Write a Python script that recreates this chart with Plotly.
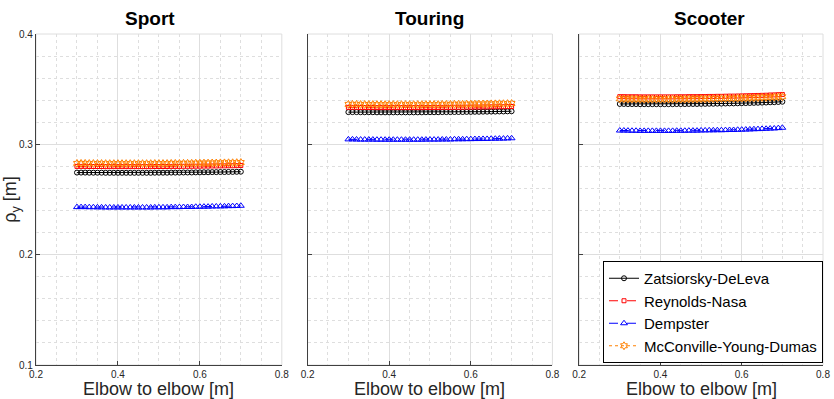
import plotly.graph_objects as go
from plotly.subplots import make_subplots

# Elbow-to-elbow distance [m]
elbow = [0.30, 0.31, 0.32, 0.33, 0.34, 0.35, 0.36, 0.37, 0.38, 0.39, 0.40,
         0.41, 0.42, 0.43, 0.44, 0.45, 0.46, 0.47, 0.48, 0.49, 0.50,
         0.51, 0.52, 0.53, 0.54, 0.55, 0.56, 0.57, 0.58, 0.59, 0.60,
         0.61, 0.62, 0.63, 0.64, 0.65, 0.66, 0.67, 0.68, 0.69, 0.70]

panels = ["Sport", "Touring", "Scooter"]
models = ["Zatsiorsky-DeLeva", "Reynolds-Nasa", "Dempster", "McConville-Young-Dumas"]
x_ticks = [0.2, 0.4, 0.6, 0.8]
y_ticks = [0.1, 0.2, 0.3, 0.4]

# Radius of gyration rho_y [m] per model, Sport
sport_zatsiorsky = [0.2744, 0.2744, 0.2744, 0.2743, 0.2743, 0.2743, 0.2743, 0.2742, 0.2742, 0.2742, 0.2742,
                    0.2742, 0.2742, 0.2742, 0.2742, 0.2742, 0.2742, 0.2742, 0.2742, 0.2743, 0.2743,
                    0.2743, 0.2743, 0.2744, 0.2744, 0.2744, 0.2745, 0.2745, 0.2745, 0.2746, 0.2746,
                    0.2747, 0.2747, 0.2748, 0.2748, 0.2749, 0.2749, 0.2750, 0.2750, 0.2751, 0.2752]
sport_reynolds = [0.2800, 0.2800, 0.2800, 0.2799, 0.2799, 0.2799, 0.2799, 0.2798, 0.2798, 0.2798, 0.2798,
                  0.2798, 0.2798, 0.2798, 0.2798, 0.2798, 0.2798, 0.2798, 0.2798, 0.2799, 0.2799,
                  0.2799, 0.2799, 0.2800, 0.2800, 0.2800, 0.2801, 0.2801, 0.2801, 0.2802, 0.2802,
                  0.2803, 0.2803, 0.2804, 0.2804, 0.2805, 0.2805, 0.2806, 0.2806, 0.2807, 0.2808]
sport_dempster = [0.2431, 0.2431, 0.2431, 0.2430, 0.2430, 0.2429, 0.2429, 0.2428, 0.2428, 0.2428, 0.2428,
                  0.2428, 0.2428, 0.2428, 0.2428, 0.2428, 0.2428, 0.2428, 0.2428, 0.2429, 0.2429,
                  0.2429, 0.2429, 0.2431, 0.2431, 0.2431, 0.2432, 0.2432, 0.2432, 0.2434, 0.2434,
                  0.2435, 0.2435, 0.2437, 0.2437, 0.2438, 0.2438, 0.2440, 0.2440, 0.2441, 0.2443]
sport_mcconville = [0.2827, 0.2827, 0.2827, 0.2826, 0.2826, 0.2826, 0.2826, 0.2825, 0.2825, 0.2825, 0.2825,
                    0.2825, 0.2825, 0.2825, 0.2825, 0.2825, 0.2825, 0.2825, 0.2825, 0.2826, 0.2826,
                    0.2826, 0.2826, 0.2827, 0.2827, 0.2827, 0.2828, 0.2828, 0.2828, 0.2829, 0.2829,
                    0.2830, 0.2830, 0.2831, 0.2831, 0.2832, 0.2832, 0.2833, 0.2833, 0.2834, 0.2835]

# Touring
touring_zatsiorsky = [0.3292, 0.3292, 0.3292, 0.3291, 0.3291, 0.3291, 0.3291, 0.3290, 0.3290, 0.3290, 0.3290,
                      0.3290, 0.3290, 0.3290, 0.3290, 0.3290, 0.3290, 0.3290, 0.3290, 0.3291, 0.3291,
                      0.3291, 0.3291, 0.3292, 0.3292, 0.3292, 0.3293, 0.3293, 0.3293, 0.3294, 0.3294,
                      0.3295, 0.3295, 0.3296, 0.3296, 0.3297, 0.3297, 0.3298, 0.3298, 0.3299, 0.3300]
touring_reynolds = [0.3335, 0.3335, 0.3335, 0.3334, 0.3334, 0.3334, 0.3334, 0.3333, 0.3333, 0.3333, 0.3333,
                    0.3333, 0.3333, 0.3333, 0.3333, 0.3333, 0.3333, 0.3333, 0.3333, 0.3334, 0.3334,
                    0.3334, 0.3334, 0.3335, 0.3335, 0.3335, 0.3336, 0.3336, 0.3336, 0.3337, 0.3337,
                    0.3338, 0.3338, 0.3339, 0.3339, 0.3340, 0.3340, 0.3341, 0.3341, 0.3342, 0.3343]
touring_dempster = [0.3045, 0.3045, 0.3044, 0.3043, 0.3043, 0.3043, 0.3043, 0.3042, 0.3042, 0.3042, 0.3042,
                    0.3042, 0.3042, 0.3042, 0.3042, 0.3042, 0.3042, 0.3042, 0.3042, 0.3043, 0.3043,
                    0.3043, 0.3043, 0.3044, 0.3044, 0.3044, 0.3046, 0.3046, 0.3046, 0.3047, 0.3047,
                    0.3048, 0.3048, 0.3049, 0.3049, 0.3051, 0.3051, 0.3052, 0.3052, 0.3054, 0.3055]
touring_mcconville = [0.3362, 0.3362, 0.3362, 0.3361, 0.3361, 0.3361, 0.3361, 0.3360, 0.3360, 0.3360, 0.3360,
                      0.3360, 0.3360, 0.3360, 0.3360, 0.3360, 0.3360, 0.3360, 0.3360, 0.3361, 0.3361,
                      0.3361, 0.3361, 0.3362, 0.3362, 0.3362, 0.3363, 0.3363, 0.3363, 0.3364, 0.3364,
                      0.3365, 0.3365, 0.3366, 0.3366, 0.3367, 0.3367, 0.3368, 0.3368, 0.3369, 0.3370]

# Scooter
scooter_zatsiorsky = [0.3366, 0.3366, 0.3365, 0.3365, 0.3365, 0.3364, 0.3364, 0.3364, 0.3364, 0.3364, 0.3364,
                      0.3364, 0.3364, 0.3364, 0.3365, 0.3365, 0.3365, 0.3366, 0.3366, 0.3366, 0.3367,
                      0.3367, 0.3368, 0.3368, 0.3369, 0.3369, 0.3370, 0.3371, 0.3371, 0.3372, 0.3373,
                      0.3374, 0.3375, 0.3376, 0.3377, 0.3378, 0.3379, 0.3381, 0.3382, 0.3384, 0.3386]
scooter_reynolds = [0.3432, 0.3432, 0.3431, 0.3431, 0.3431, 0.3430, 0.3430, 0.3430, 0.3430, 0.3430, 0.3430,
                    0.3430, 0.3430, 0.3430, 0.3431, 0.3431, 0.3431, 0.3432, 0.3432, 0.3432, 0.3433,
                    0.3433, 0.3434, 0.3434, 0.3435, 0.3435, 0.3436, 0.3437, 0.3437, 0.3438, 0.3439,
                    0.3440, 0.3441, 0.3442, 0.3443, 0.3444, 0.3445, 0.3447, 0.3448, 0.3450, 0.3452]
scooter_dempster = [0.3125, 0.3125, 0.3124, 0.3123, 0.3123, 0.3122, 0.3122, 0.3122, 0.3122, 0.3122, 0.3122,
                    0.3122, 0.3122, 0.3122, 0.3123, 0.3123, 0.3123, 0.3124, 0.3124, 0.3124, 0.3126,
                    0.3126, 0.3127, 0.3127, 0.3128, 0.3128, 0.3129, 0.3130, 0.3130, 0.3132, 0.3133,
                    0.3134, 0.3135, 0.3137, 0.3138, 0.3140, 0.3141, 0.3143, 0.3144, 0.3147, 0.3150]
scooter_mcconville = [0.3412, 0.3412, 0.3411, 0.3411, 0.3411, 0.3410, 0.3410, 0.3410, 0.3410, 0.3410, 0.3410,
                      0.3410, 0.3410, 0.3410, 0.3411, 0.3411, 0.3411, 0.3412, 0.3412, 0.3412, 0.3413,
                      0.3413, 0.3414, 0.3414, 0.3415, 0.3415, 0.3416, 0.3417, 0.3417, 0.3418, 0.3419,
                      0.3420, 0.3421, 0.3422, 0.3423, 0.3424, 0.3425, 0.3427, 0.3428, 0.3430, 0.3432]

panel_data = [
    [sport_zatsiorsky, sport_reynolds, sport_dempster, sport_mcconville],
    [touring_zatsiorsky, touring_reynolds, touring_dempster, touring_mcconville],
    [scooter_zatsiorsky, scooter_reynolds, scooter_dempster, scooter_mcconville],
]

styles = [
    dict(color="black", dash="solid", symbol="circle-open", size=5),
    dict(color="rgb(255,0,0)", dash="dash", symbol="square-open", size=4),
    dict(color="rgb(0,0,255)", dash="dash", symbol="triangle-up-open", size=6),
    dict(color="rgb(255,128,0)", dash="dot", symbol="hexagram-open", size=6),
]

FONT = "Liberation Sans, Arial, sans-serif"
TEXT = "#262626"

fig = make_subplots(rows=1, cols=3, subplot_titles=panels)

W, H = 834, 399
ml, mr, mt, mb = 36, 4, 34, 34
pw = W - ml - mr
ph = H - mt - mb
domains = [(0, 248 / pw), (274 / pw, 521 / pw), (548 / pw, 1.0)]

for c, series in enumerate(panel_data, start=1):
    for name, ys, st in zip(models, series, styles):
        fig.add_trace(
            go.Scatter(
                x=elbow, y=ys, name=name, mode="lines+markers",
                line=dict(color=st["color"], dash=st["dash"], width=1),
                marker=dict(symbol=st["symbol"], size=st["size"], color=st["color"],
                            line=dict(width=1, color=st["color"])),
                showlegend=(c == 3),
            ),
            row=1, col=c,
        )

tick_font = dict(family=FONT, size=10, color=TEXT)
grid_major = "rgb(222,222,222)"
grid_minor = "rgb(222,222,222)"

for i in range(1, 4):
    sfx = "" if i == 1 else str(i)
    fig.layout["xaxis" + sfx].update(
        domain=domains[i - 1], range=[0.2, 0.8], tickvals=x_ticks,
        ticktext=[f"{v:.1f}" for v in x_ticks],
        showgrid=True, gridcolor=grid_major, gridwidth=1,
        minor=dict(dtick=0.05, tick0=0.2, showgrid=True, gridcolor=grid_minor,
                   griddash="dot", gridwidth=1, ticks=""),
        showline=True, linecolor="#404040", linewidth=1.2,
        ticks="inside", ticklen=4, tickcolor="#404040",
        tickfont=tick_font, zeroline=False,
    )
    fig.layout["yaxis" + sfx].update(
        range=[0.1, 0.4], tickvals=y_ticks,
        ticktext=[f"{v:.1f}" for v in y_ticks], showticklabels=(i == 1),
        showgrid=True, gridcolor=grid_major, gridwidth=1,
        minor=dict(dtick=0.02, tick0=0.1, showgrid=True, gridcolor=grid_minor,
                   griddash="dot", gridwidth=1, ticks=""),
        showline=True, linecolor="#404040", linewidth=1.2,
        ticks="inside", ticklen=4, tickcolor="#404040",
        tickfont=tick_font, zeroline=False,
    )
    # light frame on top and right edges
    fig.add_shape(type="rect", xref=f"x{sfx} domain", yref=f"y{sfx} domain",
                  x0=0, x1=1, y0=0, y1=1, line=dict(color=grid_major, width=1), layer="below")
    # x-axis label under each panel
    d0, d1 = domains[i - 1]
    fig.add_annotation(text="Elbow to elbow [m]", xref="paper", yref="paper",
                       x=(d0 + d1) / 2, y=-(389 - (H - mb)) / ph,
                       xanchor="center", yanchor="middle",
                       showarrow=False, font=dict(family=FONT, size=18, color=TEXT))

fig.layout.yaxis.title = dict(text="ρ<sub>y</sub> [m]", standoff=0,
                              font=dict(family=FONT, size=18, color=TEXT))

for ann in fig.layout.annotations:
    if ann.text in panels:
        ann.font = dict(family=FONT, size=19, color="black")
        ann.text = f"<b>{ann.text}</b>"
        ann.yshift = 3

fig.update_layout(
    width=W, height=H,
    margin=dict(l=ml, r=mr, t=mt, b=mb),
    paper_bgcolor="white", plot_bgcolor="white",
    legend=dict(
        x=1.0, y=(H - mb - 261) / ph, xanchor="right", yanchor="top",
        bgcolor="white", bordercolor="black", borderwidth=1,
        font=dict(family=FONT, size=15, color="black"),
        itemwidth=30, tracegroupgap=0,
    ),
)

fig.write_html("out.html")
